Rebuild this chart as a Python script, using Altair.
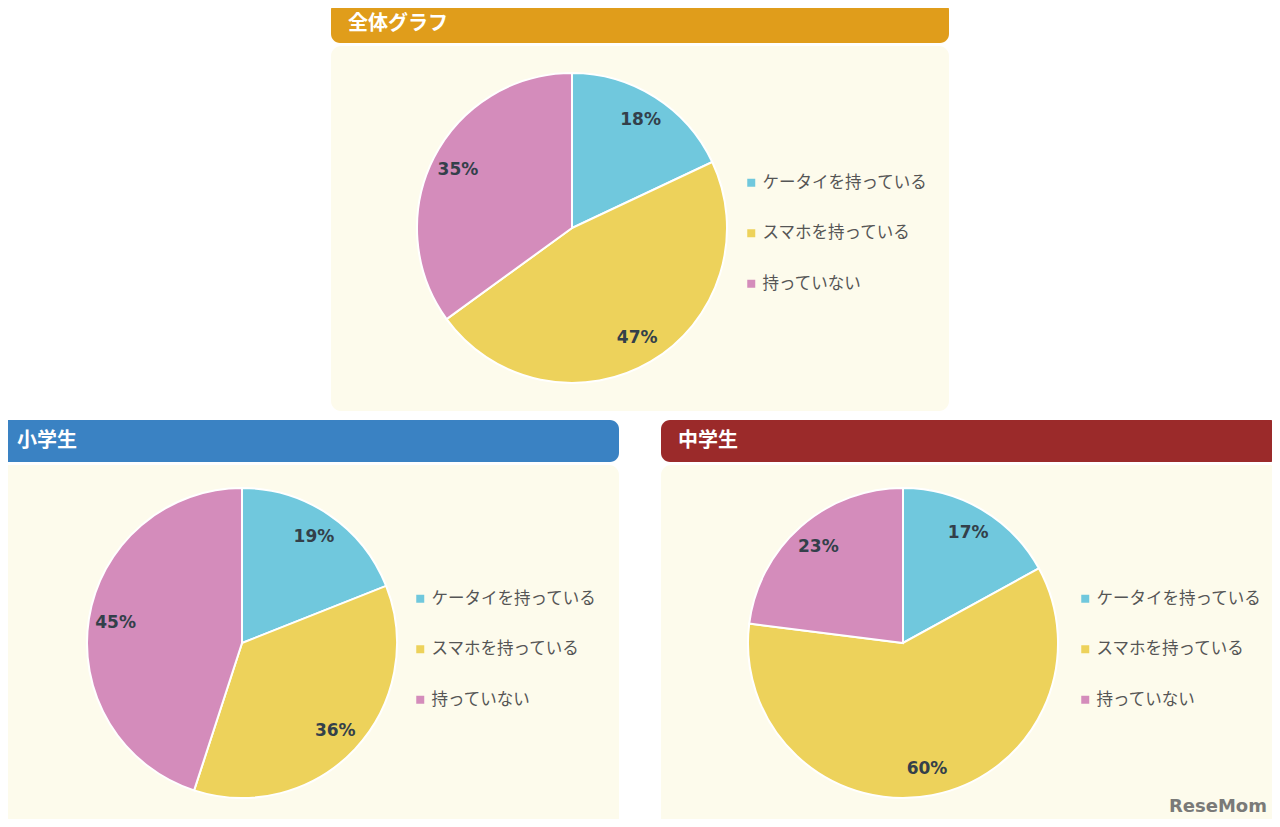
import altair as alt
import pandas as pd

categories = ["ケータイを持っている", "スマホを持っている", "持っていない"]
groups = ["全体グラフ", "小学生", "中学生"]
values_all = [18, 47, 35]
values_elem = [19, 36, 45]
values_junior = [17, 60, 23]

pie_colors = ["#70C8DD", "#EDD25B", "#D48CBB"]
header_colors = ["#E09D1B", "#3A82C3", "#9B2A2A"]
BG = "#FDFBEC"

series = [values_all, values_elem, values_junior]

# panel layout (pixels)
panels = [
    dict(x0=331, x1=949, hy0=1, hy1=43, ty=24, by0=46, by1=411, cx=572, cy=228, lx=743, ly=174.5),
    dict(x0=-10, x1=619, hy0=420, hy1=462, ty=441, by0=465, by1=840, cx=242, cy=643, lx=412, ly=590.5),
    dict(x0=661, x1=1279, hy0=420, hy1=462, ty=441, by0=465, by1=840, cx=903, cy=643, lx=1077, ly=590.5),
]

dummy = alt.Data(values=[{"a": 1}])
layers = []

for g, p, hc in zip(groups, panels, header_colors):
    bg = alt.Chart(dummy).mark_rect(color=BG, cornerRadius=10).encode(
        x=alt.value(p["x0"]), x2=alt.value(p["x1"]),
        y=alt.value(p["by0"]), y2=alt.value(p["by1"]))
    hd = alt.Chart(dummy).mark_rect(color=hc, cornerRadius=9).encode(
        x=alt.value(p["x0"]), x2=alt.value(p["x1"]),
        y=alt.value(p["hy0"]), y2=alt.value(p["hy1"]))
    tt = alt.Chart(dummy).mark_text(
        text=g, align="left", baseline="middle", color="white",
        font="Noto Sans CJK JP", fontWeight="bold", fontSize=20).encode(
        x=alt.value(max(p["x0"], 0) + 17), y=alt.value(p["ty"]))
    layers += [bg, hd, tt]

for g, p, vals in zip(groups, panels, series):
    df = pd.DataFrame({
        "category": categories,
        "value": vals,
        "idx": list(range(len(categories))),
        "label": [f"{v}%" for v in vals],
    })
    arc = alt.Chart(df).mark_arc(
        x=p["cx"], y=p["cy"], outerRadius=155, stroke="white", strokeWidth=2
    ).encode(
        theta=alt.Theta("value:Q", stack=True),
        color=alt.Color(
            "category:N",
            scale=alt.Scale(domain=categories, range=pie_colors),
            legend=alt.Legend(
                orient="none", legendX=p["lx"], legendY=p["ly"], title=None,
                symbolType="square", symbolSize=64, symbolStrokeWidth=0,
                labelFont="Noto Sans CJK JP", labelFontSize=16.5, labelColor="#555555",
                labelOffset=3, rowPadding=33.5, labelLimit=400,
            ),
        ),
        order=alt.Order("idx:Q"),
    )
    txt = alt.Chart(df).mark_text(
        x=p["cx"], y=p["cy"], radius=128, font="DejaVu Sans", fontWeight="bold",
        fontSize=17, color="#33404A"
    ).encode(
        theta=alt.Theta("value:Q", stack=True),
        detail="category:N",
        text="label:N",
        order=alt.Order("idx:Q"),
    )
    layers += [arc, txt]

wm = alt.Chart(dummy).mark_text(
    text="ReseMom", align="right", baseline="alphabetic", color="#7A7A78",
    font="DejaVu Sans", fontWeight="bold", fontSize=18).encode(
    x=alt.value(1267), y=alt.value(812))
layers.append(wm)

chart = alt.layer(*layers).resolve_scale(
    color="independent", theta="independent"
).properties(
    width=1280, height=827,
    autosize=alt.AutoSizeParams(type="none"),
    padding={"left": -8, "top": -8, "right": -8, "bottom": -8},
    background="white",
).configure_view(stroke=None, strokeWidth=0)

chart.save("out.html", embed_options={"renderer": "svg", "actions": False})
